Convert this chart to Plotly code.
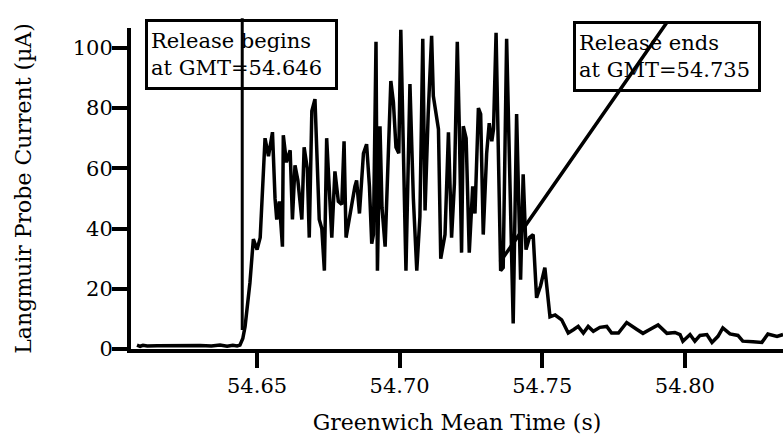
import plotly.graph_objects as go

# ---- data ----
times_s = [
    54.6079, 54.6090, 54.6100, 54.6115, 54.6150, 54.6200, 54.6250, 54.6300, 54.6340, 54.6370,
    54.6395, 54.6415, 54.6430, 54.6440, 54.6450, 54.6458, 54.6475, 54.6487, 54.6500, 54.6511,
    54.6528, 54.6540, 54.6554, 54.6563, 54.6569, 54.6578, 54.6589, 54.6592, 54.6603, 54.6616,
    54.6624, 54.6633, 54.6643, 54.6657, 54.6665, 54.6676, 54.6683, 54.6692, 54.6703, 54.6711,
    54.6718, 54.6727, 54.6736, 54.6744, 54.6762, 54.6773, 54.6785, 54.6797, 54.6805, 54.6812,
    54.6826, 54.6843, 54.6849, 54.6859, 54.6873, 54.6884, 54.6894, 54.6902, 54.6908, 54.6917,
    54.6922, 54.6931, 54.6938, 54.6949, 54.6969, 54.6978, 54.6987, 54.6997, 54.7004, 54.7013,
    54.7022, 54.7036, 54.7048, 54.7060, 54.7071, 54.7081, 54.7089, 54.7100, 54.7112, 54.7118,
    54.7136, 54.7144, 54.7159, 54.7171, 54.7182, 54.7192, 54.7202, 54.7209, 54.7217, 54.7223,
    54.7233, 54.7244, 54.7256, 54.7264, 54.7276, 54.7284, 54.7293, 54.7305, 54.7314, 54.7323,
    54.7329, 54.7338, 54.7346, 54.7354, 54.7363, 54.7375, 54.7398, 54.7410, 54.7424, 54.7433,
    54.7443, 54.7455, 54.7468, 54.7480, 54.7494, 54.7509, 54.7527, 54.7545, 54.7568, 54.7591,
    54.7609, 54.7626, 54.7644, 54.7661, 54.7679, 54.7702, 54.7726, 54.7743, 54.7767, 54.7796,
    54.7832, 54.7853, 54.7877, 54.7906, 54.7937, 54.7965, 54.7983, 54.7993, 54.8018, 54.8035,
    54.8053, 54.8077, 54.8095, 54.8116, 54.8133, 54.8158, 54.8186, 54.8203, 54.8239, 54.8270,
    54.8291, 54.8323, 54.8344,
]
current_uA = [
    1.3, 0.9, 1.2, 1.0, 1.1, 1.2, 1.1, 1.2, 1.0, 1.3,
    0.9, 1.2, 1.0, 1.3, 3.5, 7.5, 22, 36.5, 33, 37,
    70, 64, 72, 50, 43, 49, 34, 71, 62, 66,
    43, 61, 56, 43, 67, 60, 37, 79, 83, 59,
    43, 40, 26, 70, 37, 59, 49, 48, 69, 37,
    45, 54, 56, 45, 65, 68, 54, 35, 38, 102,
    26, 74, 47, 34, 89, 82, 67, 65, 106, 60,
    26, 88, 50, 26, 44, 103, 46, 78, 104, 84,
    73, 30, 38, 72, 37, 55, 102, 74, 32, 74,
    70, 32, 54, 45, 80, 78, 38, 65, 75, 69,
    73, 105, 67, 26, 27, 103, 8.5, 78, 23, 58,
    33, 37, 38, 17, 21, 27, 10.7, 11.3, 9.7, 5.3,
    6.4, 7.5, 5.3, 7.5, 5.9, 7.2, 7.5, 5.3, 5.3, 8.8,
    6.5, 5.2, 6.5, 8.0, 5.2, 5.5, 4.8, 2.6, 4.8, 2.6,
    4.5, 4.8, 2.2, 4.2, 7.0, 5.0, 4.5, 2.6, 2.4, 2.2,
    5.0, 4.2, 4.8,
]

x_tick_vals = [54.65, 54.70, 54.75, 54.80]
x_tick_text = ["54.65", "54.70", "54.75", "54.80"]
y_tick_vals = [0, 20, 40, 60, 80, 100]
y_tick_text = ["0", "20", "40", "60", "80", "100"]

label_begin = "Release begins<br>at GMT=54.646"
label_end = "Release ends<br>at GMT=54.735"

# annotation pointer lines (start/end in data units)
begin_ptr_x = [54.6448, 54.6448]
begin_ptr_y = [6.3, 110.3]
end_ptr_x = [54.7352, 54.7941]
end_ptr_y = [28.9, 109.0]
# box anchors (top-left; x in data units, y in paper units)
begin_box = (54.6107, 1.028)
end_box = (54.7608, 1.022)

x_range = [54.6058, 54.8344]
y_range = [0, 106.6]

FONT = "DejaVu Serif"

fig = go.Figure()
fig.add_trace(go.Scatter(
    x=times_s, y=current_uA, mode="lines",
    line=dict(color="black", width=3.5),
    showlegend=False, hoverinfo="skip",
))

annotations = [
    dict(x=begin_box[0], y=begin_box[1], xref="x", yref="paper", xanchor="left", yanchor="top",
         text=label_begin, showarrow=False, align="left",
         font=dict(family=FONT, size=21, color="black"),
         bordercolor="black", borderwidth=3, borderpad=3, width=181, height=59,
         bgcolor="rgba(0,0,0,0)"),
    dict(x=end_box[0], y=end_box[1], xref="x", yref="paper", xanchor="left", yanchor="top",
         text=label_end, showarrow=False, align="left",
         font=dict(family=FONT, size=21, color="black"),
         bordercolor="black", borderwidth=3, borderpad=3, width=176, height=59,
         bgcolor="rgba(0,0,0,0)"),
    dict(x=begin_ptr_x[0], y=begin_ptr_y[0], ax=begin_ptr_x[1], ay=begin_ptr_y[1],
         xref="x", yref="y", axref="x", ayref="y", text="", showarrow=True,
         arrowhead=0, arrowwidth=3, arrowcolor="black"),
    dict(x=end_ptr_x[0], y=end_ptr_y[0], ax=end_ptr_x[1], ay=end_ptr_y[1],
         xref="x", yref="y", axref="x", ayref="y", text="", showarrow=True,
         arrowhead=0, arrowwidth=3.5, arrowcolor="black"),
]

fig.update_layout(
    width=783, height=435,
    margin=dict(l=131, r=0, t=28, b=86),
    paper_bgcolor="white", plot_bgcolor="white",
    font=dict(family=FONT, color="black", size=21),
    annotations=annotations,
    xaxis=dict(
        range=x_range, showgrid=False, zeroline=False,
        showline=True, linecolor="black", linewidth=4,
        ticks="outside", ticklen=15, tickwidth=3.5, tickcolor="black",
        tickvals=x_tick_vals, ticktext=x_tick_text,
        tickfont=dict(family=FONT, size=21, color="black"),
        title=dict(text="Greenwich Mean Time (s)", font=dict(family=FONT, size=22, color="black"),
                   standoff=18),
    ),
    yaxis=dict(
        range=y_range, showgrid=False, zeroline=False,
        showline=True, linecolor="black", linewidth=4,
        ticks="outside", ticklen=15, tickwidth=3.5, tickcolor="black",
        tickvals=y_tick_vals, ticktext=y_tick_text, ticklabelstandoff=-5,
        tickfont=dict(family=FONT, size=21, color="black"),
        title=dict(text="Langmuir Probe Current (µA)", font=dict(family=FONT, size=22, color="black"),
                   standoff=36),
    ),
)

fig.write_html("out.html")
